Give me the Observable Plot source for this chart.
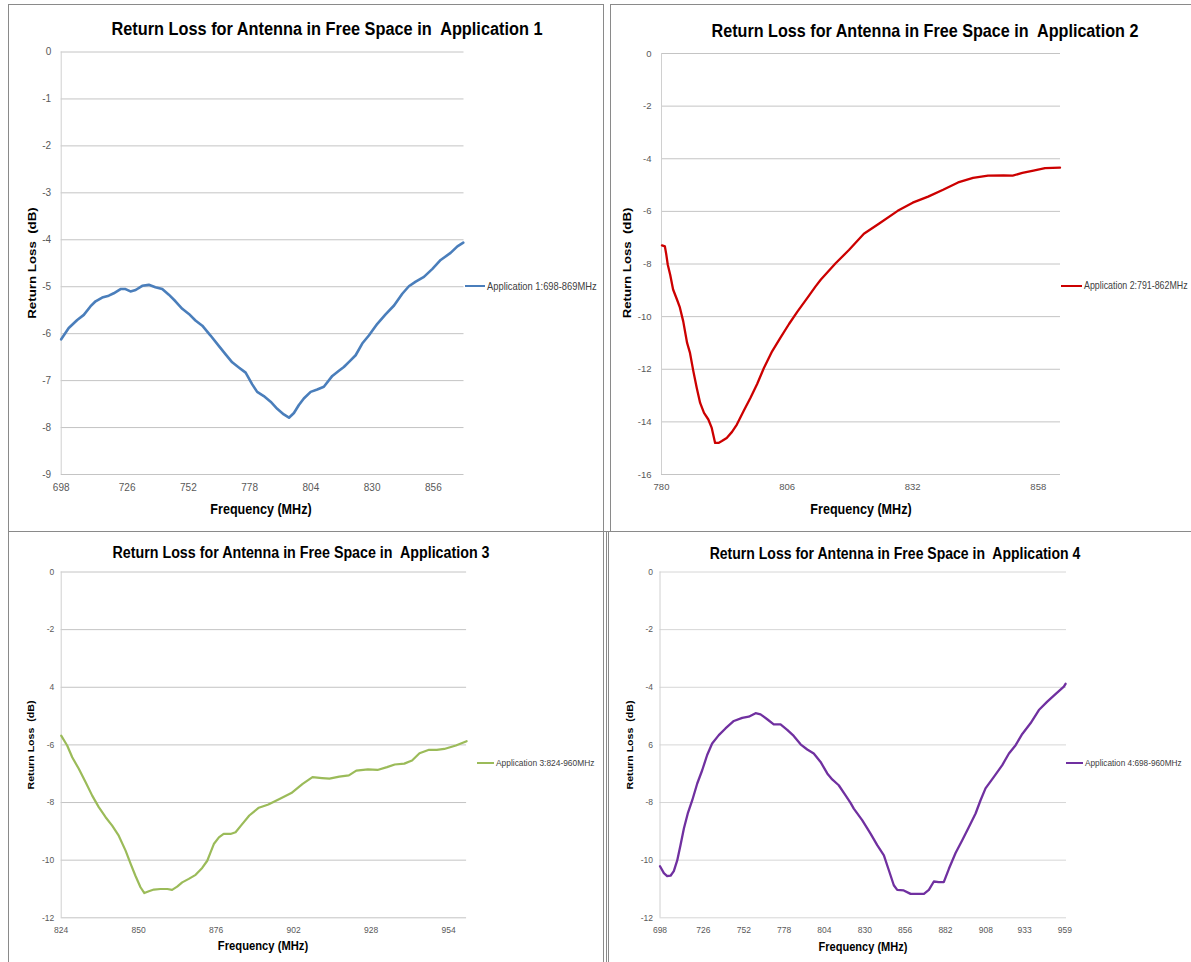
<!DOCTYPE html>
<html><head><meta charset="utf-8">
<script src="https://cdn.jsdelivr.net/npm/d3@7"></script>
<script src="https://cdn.jsdelivr.net/npm/@observablehq/plot@0.6"></script>
<style>
html,body{margin:0;padding:0;background:#fff;}
#page{position:relative;width:1191px;height:962px;overflow:hidden;background:#fff;font-family:"Liberation Sans",Arial,sans-serif;}
.txt{position:absolute;white-space:pre;line-height:1;}
.hl{position:absolute;height:0;border-top:1px solid #8a8a8a;}
.vl{position:absolute;width:0;border-left:1px solid #8a8a8a;}
.lg{position:absolute;height:0;}
</style></head><body><div id="page"></div>
<script>
// ---------- data (frequency MHz, return loss dB) ----------
const app1Points = [[698,-6.12],[701.2,-5.88],[704.8,-5.71],[707.6,-5.60],[710.4,-5.42],[712.6,-5.31],[715.4,-5.23],[718.2,-5.19],[720.3,-5.14],[723.2,-5.05],[725.3,-5.05],[727.4,-5.10],[729.6,-5.07],[732.4,-4.98],[735.2,-4.96],[738,-5.01],[740.9,-5.05],[743.7,-5.17],[746.5,-5.31],[749.4,-5.47],[752.2,-5.58],[755,-5.72],[757.9,-5.83],[761.4,-6.04],[764.9,-6.26],[767.8,-6.44],[770.6,-6.61],[773.4,-6.72],[776.3,-6.83],[779.1,-7.08],[781.2,-7.24],[784,-7.33],[786.9,-7.45],[789.7,-7.60],[792.5,-7.72],[794.7,-7.79],[796.8,-7.69],[798.9,-7.52],[801,-7.38],[803.9,-7.24],[806.7,-7.19],[809.5,-7.13],[813.1,-6.90],[815.9,-6.79],[818,-6.71],[820.2,-6.60],[823,-6.46],[825.8,-6.21],[828.6,-6.04],[832.2,-5.79],[835.7,-5.59],[839.3,-5.40],[842.8,-5.15],[845.6,-4.99],[848.5,-4.89],[852,-4.79],[855.6,-4.62],[859.1,-4.43],[863.3,-4.28],[866.2,-4.14],[868.7,-4.06]];
const app2Points = [[780.1,-7.29],[780.7,-7.33],[781.0,-7.65],[781.3,-8.03],[781.8,-8.41],[782.4,-8.97],[783.2,-9.35],[783.8,-9.65],[784.5,-10.18],[785.3,-11.0],[785.9,-11.38],[786.6,-12.08],[787.3,-12.71],[788.0,-13.28],[788.8,-13.66],[789.7,-13.91],[790.4,-14.23],[791.1,-14.8],[791.8,-14.8],[792.5,-14.73],[793.5,-14.61],[794.6,-14.38],[795.6,-14.10],[797.0,-13.59],[798.4,-13.09],[799.8,-12.56],[801.2,-11.95],[802.9,-11.32],[804.6,-10.81],[806.4,-10.28],[808.1,-9.82],[810.2,-9.29],[811.9,-8.85],[813.0,-8.59],[816.0,-7.98],[818.8,-7.47],[821.9,-6.85],[825.0,-6.47],[828.9,-5.98],[832.0,-5.67],[835.2,-5.44],[838.3,-5.18],[841.4,-4.90],[844.5,-4.73],[847.6,-4.64],[850.8,-4.63],[852.7,-4.64],[854.7,-4.54],[857.0,-4.45],[859.4,-4.36],[862.5,-4.34]];
const app3Points = [[824,-5.68],[826,-6.02],[827.7,-6.43],[829.9,-6.83],[832.2,-7.30],[834.4,-7.76],[836.6,-8.16],[838.9,-8.51],[841.1,-8.80],[843.3,-9.15],[845.6,-9.67],[847.3,-10.13],[848.9,-10.54],[850.6,-10.94],[851.9,-11.14],[853.4,-11.08],[855.1,-11.02],[857.3,-11.0],[859.6,-11.0],[861.2,-11.03],[862.9,-10.92],[864.6,-10.77],[866.8,-10.65],[869.1,-10.51],[871.3,-10.27],[873,-10.02],[874.1,-9.73],[875.2,-9.44],[876.9,-9.21],[878.5,-9.09],[880.8,-9.09],[882.5,-9.03],[884.3,-8.80],[887.1,-8.45],[890.3,-8.18],[893.5,-8.07],[897.4,-7.87],[901.2,-7.67],[905,-7.35],[908.3,-7.12],[911.5,-7.15],[914,-7.17],[917.3,-7.10],[920.5,-7.06],[923,-6.89],[926.9,-6.85],[930.1,-6.87],[933.3,-6.77],[935.9,-6.68],[939.1,-6.65],[941.7,-6.54],[944.2,-6.29],[947.4,-6.17],[950,-6.17],[952.5,-6.14],[956.4,-6.02],[960,-5.87]];
const app4Points = [[698,-10.21],[700.5,-10.45],[702.6,-10.55],[704.8,-10.54],[706.9,-10.38],[709.1,-10.01],[711.2,-9.48],[713.4,-8.90],[715.9,-8.38],[718.8,-7.92],[722,-7.34],[725.2,-6.88],[728.4,-6.35],[731.6,-5.95],[735.9,-5.66],[740.2,-5.43],[745.6,-5.17],[751,-5.06],[755.2,-5.02],[759.6,-4.90],[762.8,-4.94],[767.1,-5.11],[771.3,-5.29],[775.7,-5.29],[780,-5.48],[784.2,-5.69],[788.6,-5.98],[792.9,-6.16],[797.1,-6.30],[801.5,-6.59],[805.8,-6.99],[809,-7.20],[813.2,-7.40],[817.6,-7.75],[820.8,-8.01],[822.9,-8.21],[828.3,-8.61],[833.7,-9.08],[838,-9.48],[842.3,-9.83],[845.5,-10.35],[848.7,-10.87],[850.9,-11.03],[855.1,-11.05],[859.5,-11.17],[863.8,-11.17],[868.1,-11.17],[871.3,-11.03],[874.5,-10.74],[877.7,-10.76],[880.9,-10.76],[884.2,-10.30],[888.5,-9.75],[892.8,-9.31],[897.1,-8.85],[901.4,-8.38],[904.6,-7.92],[907.8,-7.51],[913.2,-7.11],[918.6,-6.70],[922.9,-6.30],[927.2,-6.01],[931.5,-5.62],[936.8,-5.25],[942.2,-4.79],[947.6,-4.50],[952.9,-4.24],[958.3,-3.98],[959.4,-3.88]];

const chartTitles = ["Return Loss for Antenna in Free Space in  Application 1","Return Loss for Antenna in Free Space in  Application 2","Return Loss for Antenna in Free Space in  Application 3","Return Loss for Antenna in Free Space in  Application 4"];
const seriesNames = ["Application 1:698-869MHz","Application 2:791-862MHz","Application 3:824-960MHz","Application 4:698-960MHz"];
const xTitle = "Frequency (MHz)";
const yTitle = "Return Loss  (dB)";

const app1XTicks = [698,726,752,778,804,830,856];
const app2XTicks = [780,806,832,858];
const app3XTicks = [824,850,876,902,928,954];
const app4XTicks = [698,726,752,778,804,830,856,882,908,933,959];
const app1YTicks = [0,-1,-2,-3,-4,-5,-6,-7,-8,-9];
const app1YLabels = ["0","-1","-2","-3","-4","-5","-6","-7","-8","-9"];
const app2YTicks = [0,-2,-4,-6,-8,-10,-12,-14,-16];
const app2YLabels = ["0","-2","-4","-6","-8","-10","-12","-14","-16"];
const app3YTicks = [0,-2,-4,-6,-8,-10,-12];
const app3YLabels = ["0","-2","4","-6","-8","-10","-12"];
const app4YTicks = [0,-2,-4,-6,-8,-10,-12];
const app4YLabels = ["0","-2","-4","6","-8","-10","-12"];

// ---------- layout ----------
const page = document.getElementById("page");
const FONT = '"Liberation Sans", Arial, sans-serif';

function hline(x1, x2, y){ const d=document.createElement("div"); d.className="hl"; d.style.left=x1+"px"; d.style.width=(x2-x1)+"px"; d.style.top=y+"px"; page.appendChild(d); }
function vline(x, y1, y2){ const d=document.createElement("div"); d.className="vl"; d.style.left=x+"px"; d.style.top=y1+"px"; d.style.height=(y2-y1)+"px"; page.appendChild(d); }
function text(str, cx, cy, size, opts={}){
  const d=document.createElement("div"); d.className="txt"; d.textContent=str;
  d.style.left=cx+"px"; d.style.top=cy+"px"; d.style.fontSize=size+"px";
  d.style.fontWeight=opts.bold?"bold":"normal"; d.style.color=opts.color||"#000";
  const sq = opts.squish||0.85;
  if (opts.rotate) d.style.transform=`translate(-50%,-50%) rotate(-90deg) scaleY(${sq})`;
  else if (opts.left) { d.style.transformOrigin="0 50%"; d.style.transform=`translate(0,-50%) scaleX(${sq})`; }
  else d.style.transform=`translate(-50%,-50%) scaleX(${sq})`;
  page.appendChild(d);
}

function drawPanel(c){
  const fmt = new Map(c.yTicks.map((t,i)=>[t, c.yLabels[i]]));
  const svg = Plot.plot({
    width: c.w, height: c.h,
    marginLeft: c.plotL - c.svgL, marginRight: c.svgL + c.w - c.plotR,
    marginTop: c.plotT - c.svgT, marginBottom: c.svgT + c.h - c.plotB,
    style: {fontFamily: FONT, fontSize: c.tickFont+"px", color: "#595959", background: "transparent", overflow: "visible"},
    x: {domain: c.xDomain, ticks: c.xTicks, tickSize: 0, tickPadding: c.xPad, label: null, tickFormat: d => String(d)},
    y: {domain: c.yDomain, ticks: c.yTicks, tickSize: 0, tickPadding: c.yPad, label: null, tickFormat: d => fmt.get(d)},
    marks: [
      Plot.ruleY(c.yTicks, {stroke: c.grid, strokeWidth: 1}),
      Plot.ruleX([c.xDomain[0]], {stroke: "#d0d0d0", strokeWidth: 1}),
      Plot.line(c.points, {x: d => d[0], y: d => d[1], stroke: c.color, strokeWidth: c.lw, strokeLinejoin: "round", strokeLinecap: "round"})
    ]
  });
  svg.style.position = "absolute";
  svg.style.left = c.svgL + "px";
  svg.style.top = c.svgT + "px";
  page.appendChild(svg);
  // legend entry
  const lg = document.createElement("div"); lg.className="lg";
  lg.style.left=c.lgX1+"px"; lg.style.width=(c.lgX2-c.lgX1)+"px"; lg.style.top=(c.lgY - c.lw/2)+"px";
  lg.style.borderTop = c.lw+"px solid "+c.color; page.appendChild(lg);
  text(c.name, c.lgX2+2, c.lgY, c.lgFont, {left:true, color:"#404040"});
  text(c.title, c.titleX, c.titleY, c.titleFont, {bold:true, squish:c.titleSq});
  text(xTitle, c.xtX, c.xtY, c.xtFont, {bold:true});
  text(yTitle, c.ytX, c.ytY, c.ytFont, {bold:true, rotate:true});
}

// panel frames
hline(8, 603, 4); hline(610, 1191, 4);
hline(8, 1191, 531);
vline(8, 4, 962); vline(603, 4, 962); vline(610, 4, 531);
vline(605.5, 532, 962); vline(607.5, 532, 962);

drawPanel({points: app1Points, xDomain:[698,869], yDomain:[-9,0], xTicks: app1XTicks, yTicks: app1YTicks, yLabels: app1YLabels,
  svgL:8, svgT:40, w:462, h:460, plotL:60.7, plotR:463.5, plotT:51.5, plotB:474, tickFont:10, xPad:9, yPad:10,
  grid:"#c4c4c4", color:"#4a7ebb", lw:2.6, name: seriesNames[0], lgX1:464.5, lgX2:485, lgY:286, lgFont:11,
  title: chartTitles[0], titleX:326.7, titleY:28.7, titleFont:19.2, titleSq:0.85,
  xtX:261.3, xtY:508.8, xtFont:14.8, ytX:32, ytY:262.8, ytFont:13.3});

drawPanel({points: app2Points, xDomain:[780,862.6], yDomain:[-16,0], xTicks: app2XTicks, yTicks: app2YTicks, yLabels: app2YLabels,
  svgL:610, svgT:40, w:460, h:460, plotL:661, plotR:1060, plotT:53, plotB:474, tickFont:9.5, xPad:9, yPad:10,
  grid:"#c4c4c4", color:"#cc0000", lw:2.3, name: seriesNames[1], lgX1:1061, lgX2:1081.5, lgY:285.7, lgFont:10.4,
  title: chartTitles[1], titleX:924.5, titleY:29.8, titleFont:19, titleSq:0.85,
  xtX:860.5, xtY:509, xtFont:14.8, ytX:627, ytY:263.3, ytFont:13.2});

drawPanel({points: app3Points, xDomain:[824,960], yDomain:[-12,0], xTicks: app3XTicks, yTicks: app3YTicks, yLabels: app3YLabels,
  svgL:8, svgT:560, w:470, h:380, plotL:60.7, plotR:466.1, plotT:571.5, plotB:917.3, tickFont:8.5, xPad:9, yPad:7,
  grid:"#c4c4c4", color:"#9bbb59", lw:2.2, name: seriesNames[2], lgX1:476.5, lgX2:493.7, lgY:763.3, lgFont:9.9,
  title: chartTitles[2], titleX:300.8, titleY:553.3, titleFont:16.8, titleSq:0.85,
  xtX:263.3, xtY:946, xtFont:13.2, ytX:30.6, ytY:745, ytFont:10.6});

drawPanel({points: app4Points, xDomain:[698,960], yDomain:[-12,0], xTicks: app4XTicks, yTicks: app4YTicks, yLabels: app4YLabels,
  svgL:610, svgT:560, w:460, h:380, plotL:659.5, plotR:1066, plotT:571.5, plotB:917.3, tickFont:8.5, xPad:9, yPad:7,
  grid:"#d6d6d6", color:"#7030a0", lw:2.3, name: seriesNames[3], lgX1:1065.5, lgX2:1083.2, lgY:763.3, lgFont:9.7,
  title: chartTitles[3], titleX:894.5, titleY:553.3, titleFont:16.5, titleSq:0.85,
  xtX:862.5, xtY:946, xtFont:13.0, ytX:630, ytY:744.7, ytFont:10.6});
</script></body></html>
